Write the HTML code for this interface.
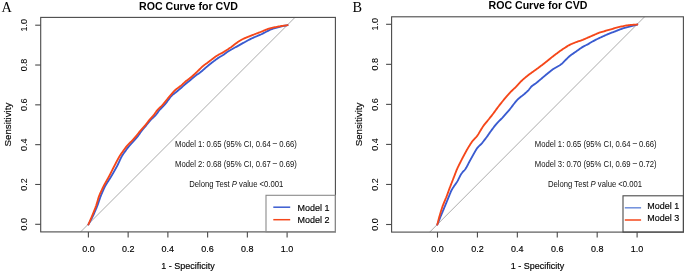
<!DOCTYPE html>
<html><head><meta charset="utf-8"><style>
html,body{margin:0;padding:0;background:#fff;width:685px;height:272px;overflow:hidden}
svg{display:block;will-change:transform}
text{font-family:"Liberation Sans",sans-serif;fill:#000}
.ax{font-size:9px;stroke:#000;stroke-width:0.15px}
.axr{font-size:9px;stroke:#000;stroke-width:0.05px}
.title{font-size:10.6px;font-weight:bold;fill:#000}
.mt{font-size:7.7px;fill:#111}
.letter{font-family:"Liberation Serif",serif;font-size:14.3px;fill:#000}
</style></head><body>
<svg width="685" height="272" viewBox="0 0 685 272">
<rect width="685" height="272" fill="#fff"/>
<line x1="80.6" y1="231.9" x2="295" y2="17.4" stroke="#ababab" stroke-width="1"/>
<polyline points="88.40,224.50 88.88,223.62 89.35,222.74 89.83,221.86 90.31,220.98 90.78,220.10 91.26,219.22 91.73,218.33 92.20,217.45 92.65,216.56 93.09,215.66 93.51,214.75 93.92,213.84 94.32,212.92 94.72,212.00 95.11,211.08 95.51,210.16 95.90,209.24 96.30,208.32 96.68,207.40 97.06,206.47 97.42,205.54 97.76,204.60 98.09,203.65 98.42,202.71 98.74,201.76 99.06,200.81 99.39,199.86 99.71,198.92 100.04,197.97 100.38,197.03 100.73,196.09 101.10,195.16 101.49,194.24 101.88,193.32 102.28,192.40 102.69,191.49 103.09,190.57 103.49,189.66 103.90,188.74 104.31,187.83 104.74,186.93 105.20,186.04 105.69,185.17 106.20,184.31 106.73,183.46 107.27,182.62 107.80,181.77 108.34,180.93 108.88,180.09 109.42,179.24 109.96,178.40 110.50,177.55 111.03,176.70 111.55,175.85 112.06,174.99 112.56,174.12 113.06,173.26 113.56,172.39 114.05,171.52 114.55,170.65 115.05,169.78 115.54,168.91 116.03,168.04 116.52,167.16 116.99,166.28 117.44,165.39 117.88,164.49 118.31,163.58 118.73,162.67 119.15,161.77 119.57,160.86 119.99,159.95 120.41,159.04 120.83,158.13 121.28,157.24 121.75,156.36 122.26,155.50 122.80,154.67 123.37,153.84 123.94,153.03 124.53,152.21 125.11,151.40 125.70,150.59 126.28,149.78 126.87,148.96 127.46,148.15 128.06,147.35 128.67,146.56 129.30,145.79 129.96,145.04 130.63,144.30 131.31,143.57 132.00,142.84 132.69,142.11 133.37,141.38 134.05,140.65 134.72,139.90 135.37,139.14 136.02,138.38 136.66,137.61 137.29,136.83 137.91,136.05 138.52,135.25 139.11,134.45 139.68,133.63 140.25,132.80 140.81,131.97 141.38,131.15 141.97,130.35 142.58,129.56 143.22,128.79 143.88,128.04 144.54,127.29 145.21,126.54 145.87,125.79 146.51,125.02 147.15,124.25 147.78,123.47 148.40,122.69 149.03,121.91 149.66,121.14 150.32,120.38 151.00,119.65 151.70,118.95 152.43,118.26 153.16,117.58 153.90,116.90 154.62,116.21 155.32,115.50 155.98,114.76 156.61,113.99 157.21,113.19 157.79,112.38 158.37,111.57 158.97,110.77 159.60,110.00 160.26,109.25 160.95,108.54 161.66,107.83 162.38,107.13 163.09,106.43 163.79,105.71 164.46,104.98 165.11,104.22 165.73,103.44 166.34,102.64 166.94,101.84 167.53,101.04 168.13,100.23 168.72,99.43 169.32,98.62 169.92,97.82 170.53,97.03 171.16,96.26 171.83,95.54 172.54,94.87 173.31,94.24 174.11,93.65 174.91,93.06 175.70,92.45 176.48,91.83 177.25,91.19 178.02,90.54 178.78,89.90 179.55,89.25 180.31,88.60 181.06,87.94 181.81,87.27 182.55,86.60 183.28,85.92 184.02,85.25 184.77,84.59 185.53,83.94 186.31,83.30 187.09,82.68 187.87,82.06 188.66,81.43 189.44,80.81 190.21,80.17 190.97,79.52 191.73,78.87 192.49,78.21 193.24,77.56 194.01,76.92 194.79,76.29 195.58,75.69 196.40,75.11 197.22,74.54 198.05,73.98 198.87,73.41 199.68,72.82 200.47,72.21 201.25,71.59 202.02,70.94 202.77,70.29 203.53,69.63 204.28,68.97 205.03,68.31 205.79,67.65 206.54,66.99 207.30,66.34 208.07,65.70 208.84,65.06 209.62,64.44 210.41,63.82 211.20,63.21 211.99,62.59 212.78,61.98 213.58,61.37 214.37,60.76 215.17,60.15 215.97,59.55 216.78,58.96 217.60,58.39 218.43,57.84 219.28,57.32 220.14,56.81 221.01,56.31 221.87,55.80 222.71,55.27 223.54,54.71 224.36,54.14 225.17,53.55 225.97,52.95 226.78,52.36 227.60,51.79 228.43,51.24 229.28,50.71 230.14,50.20 231.01,49.71 231.89,49.23 232.77,48.75 233.65,48.27 234.53,47.79 235.41,47.31 236.28,46.83 237.16,46.35 238.04,45.86 238.91,45.37 239.78,44.88 240.66,44.39 241.53,43.90 242.40,43.41 243.28,42.93 244.15,42.44 245.03,41.95 245.90,41.47 246.78,40.98 247.66,40.51 248.54,40.03 249.43,39.56 250.31,39.11 251.21,38.66 252.12,38.23 253.03,37.82 253.94,37.41 254.86,37.01 255.78,36.62 256.70,36.23 257.63,35.85 258.56,35.47 259.48,35.09 260.40,34.69 261.31,34.28 262.21,33.85 263.10,33.40 263.99,32.94 264.88,32.48 265.77,32.01 266.65,31.54 267.53,31.07 268.42,30.60 269.31,30.15 270.21,29.72 271.12,29.33 272.06,29.00 273.01,28.70 273.97,28.43 274.94,28.18 275.91,27.92 276.88,27.67 277.85,27.42 278.82,27.17 279.79,26.92 280.76,26.67 281.73,26.43 282.70,26.20 283.68,25.97 284.65,25.75 285.63,25.55 286.61,25.37 287.60,25.20" fill="none" stroke="#3a5bd0" stroke-width="1.85" stroke-linejoin="round" stroke-linecap="round"/>
<polyline points="88.40,224.50 88.80,223.58 89.20,222.66 89.60,221.75 90.00,220.83 90.40,219.91 90.80,218.99 91.19,218.08 91.59,217.16 91.98,216.23 92.36,215.31 92.74,214.38 93.12,213.46 93.49,212.53 93.86,211.60 94.23,210.67 94.60,209.74 94.97,208.81 95.34,207.88 95.69,206.94 96.03,206.00 96.34,205.05 96.64,204.10 96.93,203.14 97.21,202.18 97.49,201.22 97.77,200.26 98.05,199.30 98.33,198.34 98.63,197.39 98.95,196.44 99.30,195.51 99.68,194.58 100.08,193.67 100.50,192.75 100.91,191.85 101.33,190.94 101.75,190.03 102.17,189.12 102.59,188.21 103.02,187.31 103.46,186.41 103.92,185.52 104.39,184.64 104.88,183.77 105.37,182.90 105.87,182.03 106.36,181.16 106.86,180.29 107.35,179.42 107.85,178.55 108.34,177.68 108.82,176.80 109.30,175.92 109.76,175.04 110.22,174.15 110.67,173.25 111.12,172.36 111.57,171.46 112.02,170.57 112.46,169.67 112.91,168.78 113.36,167.88 113.81,166.99 114.27,166.10 114.73,165.21 115.19,164.32 115.66,163.44 116.13,162.55 116.60,161.67 117.06,160.79 117.53,159.90 118.00,159.02 118.48,158.14 118.96,157.26 119.47,156.40 119.99,155.55 120.54,154.72 121.11,153.89 121.68,153.07 122.26,152.26 122.84,151.44 123.42,150.62 124.00,149.81 124.58,148.99 125.16,148.18 125.76,147.38 126.37,146.59 127.01,145.83 127.68,145.09 128.38,144.37 129.08,143.66 129.79,142.96 130.50,142.26 131.21,141.55 131.91,140.84 132.60,140.11 133.28,139.37 133.94,138.62 134.59,137.86 135.23,137.10 135.88,136.33 136.52,135.56 137.15,134.79 137.78,134.01 138.41,133.23 139.04,132.45 139.67,131.68 140.30,130.90 140.95,130.14 141.60,129.38 142.27,128.64 142.94,127.90 143.61,127.16 144.28,126.41 144.94,125.66 145.59,124.90 146.21,124.12 146.82,123.33 147.43,122.53 148.03,121.73 148.64,120.94 149.27,120.16 149.92,119.40 150.58,118.66 151.26,117.92 151.94,117.19 152.61,116.45 153.27,115.70 153.90,114.92 154.49,114.12 155.06,113.30 155.62,112.48 156.18,111.65 156.76,110.84 157.38,110.07 158.05,109.33 158.75,108.63 159.48,107.94 160.21,107.26 160.94,106.58 161.66,105.89 162.36,105.17 163.03,104.44 163.67,103.67 164.29,102.89 164.90,102.10 165.52,101.31 166.14,100.52 166.76,99.75 167.40,98.97 168.05,98.21 168.70,97.45 169.35,96.69 170.00,95.93 170.65,95.17 171.29,94.40 171.94,93.64 172.59,92.88 173.24,92.12 173.90,91.37 174.59,90.65 175.31,89.97 176.06,89.33 176.85,88.72 177.66,88.13 178.47,87.54 179.28,86.96 180.08,86.36 180.87,85.75 181.63,85.11 182.37,84.44 183.09,83.75 183.81,83.06 184.54,82.37 185.29,81.72 186.06,81.09 186.86,80.48 187.66,79.89 188.46,79.29 189.26,78.69 190.05,78.07 190.82,77.44 191.59,76.79 192.34,76.14 193.09,75.47 193.84,74.81 194.58,74.14 195.31,73.46 196.04,72.77 196.76,72.07 197.47,71.37 198.19,70.67 198.90,69.97 199.62,69.27 200.33,68.57 201.04,67.87 201.76,67.17 202.50,66.50 203.25,65.85 204.04,65.23 204.84,64.63 205.65,64.05 206.46,63.47 207.27,62.89 208.08,62.29 208.88,61.69 209.68,61.09 210.47,60.47 211.26,59.86 212.05,59.25 212.85,58.65 213.65,58.05 214.46,57.46 215.27,56.87 216.09,56.29 216.91,55.73 217.75,55.20 218.61,54.69 219.49,54.22 220.38,53.76 221.27,53.31 222.16,52.85 223.03,52.37 223.89,51.86 224.74,51.33 225.58,50.79 226.42,50.24 227.26,49.70 228.10,49.15 228.93,48.60 229.77,48.05 230.59,47.49 231.41,46.91 232.21,46.31 233.00,45.69 233.78,45.08 234.57,44.46 235.36,43.85 236.16,43.25 236.97,42.66 237.79,42.09 238.62,41.53 239.45,40.98 240.30,40.45 241.16,39.94 242.04,39.47 242.94,39.03 243.84,38.60 244.75,38.19 245.67,37.79 246.59,37.41 247.52,37.04 248.45,36.67 249.39,36.31 250.32,35.95 251.25,35.59 252.18,35.22 253.11,34.85 254.04,34.49 254.98,34.12 255.91,33.76 256.85,33.41 257.78,33.06 258.72,32.72 259.66,32.37 260.59,32.01 261.52,31.63 262.45,31.25 263.37,30.86 264.29,30.46 265.21,30.08 266.13,29.70 267.07,29.34 268.00,28.99 268.95,28.66 269.90,28.35 270.85,28.06 271.82,27.82 272.79,27.60 273.77,27.41 274.76,27.23 275.74,27.05 276.73,26.87 277.71,26.69 278.70,26.52 279.68,26.34 280.67,26.17 281.66,26.00 282.64,25.84 283.63,25.69 284.62,25.54 285.61,25.41 286.61,25.30 287.60,25.20" fill="none" stroke="#f5471a" stroke-width="1.85" stroke-linejoin="round" stroke-linecap="round"/>
<rect x="40.7" y="17.4" width="294.7" height="214.5" fill="none" stroke="#4a4a4a" stroke-width="1.1"/>
<line x1="35.2" y1="224.30" x2="40.7" y2="224.30" stroke="#4a4a4a" stroke-width="1.1"/>
<text transform="translate(27.40,224.30) scale(1.07,1.0) rotate(-90)" text-anchor="middle" class="axr">0.0</text>
<line x1="35.2" y1="184.48" x2="40.7" y2="184.48" stroke="#4a4a4a" stroke-width="1.1"/>
<text transform="translate(27.40,184.48) scale(1.07,1.0) rotate(-90)" text-anchor="middle" class="axr">0.2</text>
<line x1="35.2" y1="144.66" x2="40.7" y2="144.66" stroke="#4a4a4a" stroke-width="1.1"/>
<text transform="translate(27.40,144.66) scale(1.07,1.0) rotate(-90)" text-anchor="middle" class="axr">0.4</text>
<line x1="35.2" y1="104.84" x2="40.7" y2="104.84" stroke="#4a4a4a" stroke-width="1.1"/>
<text transform="translate(27.40,104.84) scale(1.07,1.0) rotate(-90)" text-anchor="middle" class="axr">0.6</text>
<line x1="35.2" y1="65.02" x2="40.7" y2="65.02" stroke="#4a4a4a" stroke-width="1.1"/>
<text transform="translate(27.40,65.02) scale(1.07,1.0) rotate(-90)" text-anchor="middle" class="axr">0.8</text>
<line x1="35.2" y1="25.20" x2="40.7" y2="25.20" stroke="#4a4a4a" stroke-width="1.1"/>
<text transform="translate(27.40,25.20) scale(1.07,1.0) rotate(-90)" text-anchor="middle" class="axr">1.0</text>
<line x1="88.40" y1="231.9" x2="88.40" y2="237.4" stroke="#4a4a4a" stroke-width="1.1"/>
<text transform="translate(88.40,252.00) scale(1.0,1.1)" text-anchor="middle" class="ax">0.0</text>
<line x1="128.14" y1="231.9" x2="128.14" y2="237.4" stroke="#4a4a4a" stroke-width="1.1"/>
<text transform="translate(128.14,252.00) scale(1.0,1.1)" text-anchor="middle" class="ax">0.2</text>
<line x1="167.88" y1="231.9" x2="167.88" y2="237.4" stroke="#4a4a4a" stroke-width="1.1"/>
<text transform="translate(167.88,252.00) scale(1.0,1.1)" text-anchor="middle" class="ax">0.4</text>
<line x1="207.62" y1="231.9" x2="207.62" y2="237.4" stroke="#4a4a4a" stroke-width="1.1"/>
<text transform="translate(207.62,252.00) scale(1.0,1.1)" text-anchor="middle" class="ax">0.6</text>
<line x1="247.36" y1="231.9" x2="247.36" y2="237.4" stroke="#4a4a4a" stroke-width="1.1"/>
<text transform="translate(247.36,252.00) scale(1.0,1.1)" text-anchor="middle" class="ax">0.8</text>
<line x1="287.10" y1="231.9" x2="287.10" y2="237.4" stroke="#4a4a4a" stroke-width="1.1"/>
<text transform="translate(287.10,252.00) scale(1.0,1.1)" text-anchor="middle" class="ax">1.0</text>
<text transform="translate(188.05,268.50) scale(1.0,1.1)" text-anchor="middle" class="ax">1 - Specificity</text>
<text transform="translate(11.00,124.60) scale(1.1,1.08) rotate(-90)" text-anchor="middle" class="ax">Sensitivity</text>
<text transform="translate(139.00,9.90) scale(1.0,1.0)" text-anchor="start" class="title">ROC Curve for CVD</text>
<text transform="translate(1.50,11.50) scale(1.0,1.0)" text-anchor="start" class="letter">A</text>
<text transform="translate(175.00,147.00) scale(1.0,1.1)" text-anchor="start" class="mt">Model 1: 0.65 (95% CI, 0.64 <tspan dy="-0.6">–</tspan><tspan dy="0.6"> 0.66)</tspan></text>
<text transform="translate(175.00,166.60) scale(1.0,1.1)" text-anchor="start" class="mt">Model 2: 0.68 (95% CI, 0.67 <tspan dy="-0.6">–</tspan><tspan dy="0.6"> 0.69)</tspan></text>
<text transform="translate(189.20,186.60) scale(1.0,1.1)" text-anchor="start" class="mt">Delong Test <tspan font-style="italic">P</tspan> value &lt;0.001</text>
<rect x="266" y="195.3" width="69.39999999999998" height="36.599999999999994" fill="none" stroke="#8a8a8a" stroke-width="1.1"/>
<line x1="273.3" y1="207.2" x2="290.2" y2="207.2" stroke="#3a5bd0" stroke-width="1.5"/>
<line x1="273.3" y1="219.7" x2="290.2" y2="219.7" stroke="#f5471a" stroke-width="1.5"/>
<text transform="translate(297.50,210.70) scale(1.0,1.1)" text-anchor="start" class="ax">Model 1</text>
<text transform="translate(297.50,222.70) scale(1.0,1.1)" text-anchor="start" class="ax">Model 2</text>
<line x1="429.7" y1="232.1" x2="644.6" y2="16.8" stroke="#ababab" stroke-width="1"/>
<polyline points="437.30,224.60 437.68,223.67 438.06,222.74 438.43,221.81 438.81,220.89 439.19,219.96 439.57,219.03 439.95,218.10 440.33,217.17 440.71,216.24 441.09,215.32 441.48,214.39 441.86,213.47 442.25,212.54 442.64,211.62 443.03,210.69 443.42,209.77 443.81,208.84 444.19,207.92 444.58,206.99 444.96,206.07 445.35,205.14 445.73,204.22 446.11,203.29 446.49,202.36 446.87,201.43 447.25,200.51 447.63,199.58 448.01,198.65 448.39,197.72 448.77,196.79 449.15,195.86 449.52,194.93 449.90,194.00 450.27,193.08 450.66,192.15 451.06,191.23 451.49,190.34 451.97,189.46 452.48,188.60 453.01,187.75 453.56,186.92 454.12,186.08 454.68,185.26 455.26,184.43 455.83,183.62 456.41,182.80 456.95,181.96 457.47,181.11 457.96,180.24 458.42,179.35 458.87,178.45 459.32,177.56 459.77,176.66 460.23,175.77 460.70,174.89 461.21,174.04 461.77,173.23 462.39,172.46 463.06,171.72 463.74,170.99 464.41,170.26 465.04,169.49 465.62,168.69 466.15,167.85 466.64,166.98 467.11,166.10 467.58,165.21 468.04,164.32 468.50,163.43 468.97,162.54 469.44,161.66 469.92,160.77 470.40,159.89 470.88,159.02 471.37,158.14 471.85,157.26 472.34,156.39 472.83,155.51 473.32,154.64 473.81,153.76 474.30,152.89 474.80,152.02 475.29,151.14 475.79,150.27 476.30,149.42 476.83,148.58 477.42,147.78 478.06,147.03 478.75,146.32 479.48,145.64 480.21,144.96 480.93,144.27 481.61,143.54 482.27,142.79 482.90,142.02 483.52,141.23 484.14,140.44 484.75,139.65 485.36,138.85 485.97,138.05 486.57,137.25 487.16,136.44 487.74,135.62 488.31,134.80 488.88,133.97 489.45,133.15 490.02,132.32 490.60,131.50 491.18,130.69 491.77,129.88 492.37,129.08 492.98,128.28 493.58,127.48 494.19,126.68 494.80,125.89 495.42,125.10 496.05,124.32 496.70,123.56 497.37,122.81 498.06,122.09 498.76,121.38 499.47,120.67 500.19,119.97 500.90,119.26 501.60,118.55 502.30,117.83 502.98,117.09 503.64,116.34 504.29,115.58 504.94,114.81 505.59,114.05 506.25,113.30 506.92,112.55 507.59,111.81 508.27,111.07 508.93,110.32 509.58,109.55 510.21,108.78 510.83,107.99 511.44,107.19 512.05,106.40 512.66,105.60 513.26,104.80 513.87,104.01 514.49,103.22 515.11,102.43 515.75,101.66 516.40,100.90 517.07,100.15 517.76,99.43 518.47,98.73 519.22,98.07 520.00,97.45 520.79,96.84 521.59,96.24 522.39,95.63 523.17,95.01 523.95,94.37 524.71,93.72 525.46,93.05 526.20,92.38 526.93,91.70 527.64,91.00 528.33,90.27 528.98,89.52 529.62,88.74 530.24,87.96 530.87,87.19 531.53,86.46 532.25,85.80 533.02,85.20 533.84,84.65 534.67,84.12 535.49,83.55 536.29,82.96 537.08,82.34 537.85,81.70 538.62,81.06 539.38,80.41 540.15,79.76 540.91,79.11 541.67,78.46 542.43,77.81 543.20,77.15 543.96,76.50 544.72,75.86 545.49,75.21 546.27,74.57 547.04,73.94 547.82,73.30 548.59,72.67 549.37,72.04 550.15,71.41 550.93,70.78 551.72,70.16 552.52,69.56 553.34,68.99 554.18,68.45 555.04,67.94 555.91,67.44 556.79,66.95 557.66,66.46 558.53,65.97 559.40,65.47 560.24,64.94 561.05,64.36 561.82,63.74 562.55,63.07 563.27,62.37 563.97,61.66 564.68,60.94 565.38,60.22 566.08,59.50 566.78,58.79 567.48,58.08 568.20,57.38 568.93,56.70 569.69,56.05 570.48,55.44 571.29,54.84 572.10,54.27 572.93,53.69 573.75,53.12 574.58,52.55 575.40,51.98 576.22,51.41 577.04,50.83 577.86,50.24 578.67,49.66 579.48,49.07 580.29,48.48 581.12,47.92 581.96,47.38 582.82,46.87 583.70,46.39 584.59,45.94 585.48,45.48 586.37,45.03 587.26,44.56 588.14,44.08 589.01,43.58 589.87,43.07 590.73,42.56 591.60,42.06 592.47,41.56 593.34,41.07 594.23,40.59 595.11,40.13 596.01,39.67 596.90,39.22 597.80,38.78 598.70,38.34 599.61,37.91 600.52,37.49 601.43,37.07 602.34,36.65 603.25,36.24 604.17,35.83 605.08,35.41 606.00,35.00 606.91,34.59 607.83,34.19 608.75,33.79 609.67,33.40 610.61,33.04 611.54,32.69 612.49,32.36 613.43,32.02 614.38,31.68 615.31,31.33 616.25,30.96 617.17,30.58 618.10,30.20 619.03,29.83 619.97,29.47 620.91,29.12 621.85,28.78 622.80,28.46 623.75,28.14 624.71,27.84 625.67,27.56 626.63,27.29 627.60,27.03 628.57,26.78 629.54,26.53 630.51,26.29 631.49,26.05 632.46,25.81 633.43,25.56 634.41,25.31 635.37,25.05 636.34,24.78 637.30,24.50" fill="none" stroke="#3a5bd0" stroke-width="1.85" stroke-linejoin="round" stroke-linecap="round"/>
<polyline points="437.30,224.60 437.55,223.63 437.80,222.66 438.04,221.69 438.29,220.72 438.54,219.75 438.79,218.78 439.04,217.81 439.30,216.85 439.57,215.88 439.85,214.92 440.14,213.96 440.43,213.01 440.72,212.05 441.02,211.09 441.32,210.14 441.62,209.18 441.92,208.23 442.23,207.28 442.55,206.33 442.90,205.40 443.26,204.46 443.64,203.54 444.02,202.61 444.41,201.69 444.80,200.77 445.19,199.84 445.57,198.92 445.96,198.00 446.33,197.07 446.70,196.14 447.05,195.20 447.40,194.26 447.74,193.32 448.07,192.38 448.41,191.44 448.75,190.49 449.09,189.56 449.45,188.62 449.80,187.68 450.17,186.75 450.53,185.82 450.89,184.89 451.25,183.95 451.62,183.02 451.98,182.09 452.34,181.16 452.71,180.22 453.07,179.29 453.43,178.36 453.79,177.42 454.15,176.49 454.51,175.55 454.87,174.62 455.23,173.68 455.58,172.75 455.94,171.82 456.31,170.88 456.68,169.96 457.07,169.04 457.48,168.12 457.91,167.22 458.35,166.32 458.79,165.42 459.24,164.53 459.68,163.63 460.13,162.74 460.58,161.84 461.03,160.95 461.48,160.05 461.94,159.16 462.40,158.27 462.86,157.39 463.33,156.50 463.80,155.62 464.27,154.74 464.74,153.85 465.21,152.97 465.68,152.09 466.16,151.21 466.64,150.33 467.14,149.46 467.65,148.60 468.17,147.75 468.69,146.89 469.22,146.05 469.75,145.20 470.28,144.35 470.82,143.50 471.36,142.66 471.92,141.84 472.52,141.04 473.15,140.27 473.81,139.53 474.50,138.81 475.20,138.09 475.89,137.37 476.56,136.63 477.19,135.87 477.77,135.06 478.31,134.23 478.82,133.37 479.33,132.51 479.84,131.65 480.35,130.79 480.86,129.93 481.38,129.07 481.91,128.22 482.44,127.37 482.98,126.54 483.55,125.71 484.14,124.91 484.75,124.12 485.38,123.35 486.02,122.57 486.66,121.81 487.30,121.04 487.94,120.26 488.58,119.49 489.21,118.72 489.84,117.94 490.46,117.16 491.09,116.37 491.71,115.59 492.32,114.80 492.93,114.00 493.53,113.20 494.12,112.40 494.71,111.59 495.30,110.78 495.88,109.97 496.47,109.16 497.07,108.35 497.67,107.55 498.27,106.75 498.88,105.96 499.49,105.16 500.10,104.37 500.72,103.59 501.35,102.80 501.97,102.02 502.61,101.25 503.24,100.47 503.87,99.70 504.51,98.93 505.15,98.16 505.79,97.39 506.44,96.63 507.10,95.88 507.77,95.13 508.44,94.39 509.11,93.65 509.79,92.91 510.47,92.18 511.16,91.46 511.87,90.75 512.58,90.05 513.32,89.37 514.05,88.69 514.78,88.01 515.49,87.31 516.19,86.59 516.88,85.86 517.56,85.13 518.24,84.40 518.92,83.66 519.60,82.93 520.28,82.20 520.97,81.47 521.67,80.75 522.38,80.06 523.12,79.38 523.87,78.73 524.64,78.09 525.42,77.46 526.20,76.83 526.98,76.20 527.76,75.58 528.54,74.95 529.33,74.34 530.13,73.74 530.94,73.15 531.75,72.56 532.57,71.99 533.39,71.41 534.20,70.83 535.02,70.26 535.84,69.68 536.65,69.09 537.46,68.50 538.26,67.91 539.06,67.31 539.86,66.70 540.66,66.10 541.46,65.49 542.25,64.89 543.05,64.28 543.84,63.67 544.63,63.06 545.42,62.44 546.20,61.81 546.98,61.18 547.76,60.55 548.53,59.92 549.31,59.29 550.08,58.66 550.86,58.03 551.64,57.40 552.42,56.77 553.21,56.16 554.00,55.55 554.80,54.94 555.60,54.35 556.41,53.75 557.21,53.15 558.02,52.56 558.82,51.96 559.63,51.37 560.44,50.79 561.26,50.21 562.08,49.64 562.91,49.09 563.75,48.53 564.59,47.98 565.42,47.44 566.26,46.89 567.10,46.35 567.95,45.82 568.81,45.32 569.69,44.85 570.59,44.42 571.50,44.02 572.43,43.63 573.35,43.25 574.28,42.87 575.21,42.50 576.14,42.14 577.08,41.79 578.02,41.45 578.97,41.14 579.92,40.83 580.87,40.51 581.81,40.18 582.75,39.83 583.67,39.45 584.59,39.06 585.51,38.67 586.43,38.27 587.35,37.87 588.26,37.47 589.18,37.07 590.10,36.67 591.02,36.26 591.93,35.86 592.85,35.46 593.76,35.05 594.67,34.64 595.59,34.23 596.50,33.82 597.42,33.43 598.35,33.07 599.29,32.73 600.24,32.42 601.19,32.12 602.15,31.84 603.12,31.56 604.08,31.28 605.04,31.01 606.00,30.73 606.96,30.46 607.93,30.19 608.89,29.91 609.85,29.63 610.81,29.35 611.77,29.07 612.73,28.78 613.69,28.50 614.65,28.23 615.62,27.96 616.58,27.70 617.55,27.44 618.52,27.19 619.49,26.95 620.46,26.72 621.44,26.49 622.42,26.28 623.40,26.07 624.38,25.87 625.36,25.69 626.35,25.53 627.34,25.38 628.33,25.25 629.32,25.12 630.31,25.01 631.31,24.91 632.31,24.82 633.30,24.74 634.30,24.67 635.30,24.61 636.30,24.55 637.30,24.50" fill="none" stroke="#f5471a" stroke-width="1.85" stroke-linejoin="round" stroke-linecap="round"/>
<rect x="391.6" y="16.8" width="291.79999999999995" height="215.29999999999998" fill="none" stroke="#4a4a4a" stroke-width="1.1"/>
<line x1="386.1" y1="224.50" x2="391.6" y2="224.50" stroke="#4a4a4a" stroke-width="1.1"/>
<text transform="translate(378.40,224.50) scale(1.07,1.0) rotate(-90)" text-anchor="middle" class="axr">0.0</text>
<line x1="386.1" y1="184.46" x2="391.6" y2="184.46" stroke="#4a4a4a" stroke-width="1.1"/>
<text transform="translate(378.40,184.46) scale(1.07,1.0) rotate(-90)" text-anchor="middle" class="axr">0.2</text>
<line x1="386.1" y1="144.42" x2="391.6" y2="144.42" stroke="#4a4a4a" stroke-width="1.1"/>
<text transform="translate(378.40,144.42) scale(1.07,1.0) rotate(-90)" text-anchor="middle" class="axr">0.4</text>
<line x1="386.1" y1="104.38" x2="391.6" y2="104.38" stroke="#4a4a4a" stroke-width="1.1"/>
<text transform="translate(378.40,104.38) scale(1.07,1.0) rotate(-90)" text-anchor="middle" class="axr">0.6</text>
<line x1="386.1" y1="64.34" x2="391.6" y2="64.34" stroke="#4a4a4a" stroke-width="1.1"/>
<text transform="translate(378.40,64.34) scale(1.07,1.0) rotate(-90)" text-anchor="middle" class="axr">0.8</text>
<line x1="386.1" y1="24.30" x2="391.6" y2="24.30" stroke="#4a4a4a" stroke-width="1.1"/>
<text transform="translate(378.40,24.30) scale(1.07,1.0) rotate(-90)" text-anchor="middle" class="axr">1.0</text>
<line x1="437.50" y1="232.1" x2="437.50" y2="237.6" stroke="#4a4a4a" stroke-width="1.1"/>
<text transform="translate(437.50,252.30) scale(1.0,1.1)" text-anchor="middle" class="ax">0.0</text>
<line x1="477.42" y1="232.1" x2="477.42" y2="237.6" stroke="#4a4a4a" stroke-width="1.1"/>
<text transform="translate(477.42,252.30) scale(1.0,1.1)" text-anchor="middle" class="ax">0.2</text>
<line x1="517.34" y1="232.1" x2="517.34" y2="237.6" stroke="#4a4a4a" stroke-width="1.1"/>
<text transform="translate(517.34,252.30) scale(1.0,1.1)" text-anchor="middle" class="ax">0.4</text>
<line x1="557.26" y1="232.1" x2="557.26" y2="237.6" stroke="#4a4a4a" stroke-width="1.1"/>
<text transform="translate(557.26,252.30) scale(1.0,1.1)" text-anchor="middle" class="ax">0.6</text>
<line x1="597.18" y1="232.1" x2="597.18" y2="237.6" stroke="#4a4a4a" stroke-width="1.1"/>
<text transform="translate(597.18,252.30) scale(1.0,1.1)" text-anchor="middle" class="ax">0.8</text>
<line x1="637.10" y1="232.1" x2="637.10" y2="237.6" stroke="#4a4a4a" stroke-width="1.1"/>
<text transform="translate(637.10,252.30) scale(1.0,1.1)" text-anchor="middle" class="ax">1.0</text>
<text transform="translate(537.50,268.70) scale(1.0,1.1)" text-anchor="middle" class="ax">1 - Specificity</text>
<text transform="translate(362.10,124.50) scale(1.1,1.08) rotate(-90)" text-anchor="middle" class="ax">Sensitivity</text>
<text transform="translate(488.50,8.90) scale(1.0,1.0)" text-anchor="start" class="title">ROC Curve for CVD</text>
<text transform="translate(352.50,11.50) scale(1.0,1.0)" text-anchor="start" class="letter">B</text>
<text transform="translate(534.80,147.00) scale(1.0,1.1)" text-anchor="start" class="mt">Model 1: 0.65 (95% CI, 0.64 <tspan dy="-0.6">–</tspan><tspan dy="0.6"> 0.66)</tspan></text>
<text transform="translate(534.80,166.50) scale(1.0,1.1)" text-anchor="start" class="mt">Model 3: 0.70 (95% CI, 0.69 <tspan dy="-0.6">–</tspan><tspan dy="0.6"> 0.72)</tspan></text>
<text transform="translate(548.00,186.60) scale(1.0,1.1)" text-anchor="start" class="mt">Delong Test <tspan font-style="italic">P</tspan> value &lt;0.001</text>
<rect x="623" y="195.8" width="60.39999999999998" height="36.29999999999998" fill="none" stroke="#4a4a4a" stroke-width="1.1"/>
<line x1="624.8" y1="207.8" x2="641.1" y2="207.8" stroke="#6f8fdc" stroke-width="1.5"/>
<line x1="624.8" y1="220" x2="641.1" y2="220" stroke="#f5471a" stroke-width="1.5"/>
<text transform="translate(647.20,209.00) scale(1.0,1.1)" text-anchor="start" class="ax">Model 1</text>
<text transform="translate(647.20,221.10) scale(1.0,1.1)" text-anchor="start" class="ax">Model 3</text>
</svg>
</body></html>
